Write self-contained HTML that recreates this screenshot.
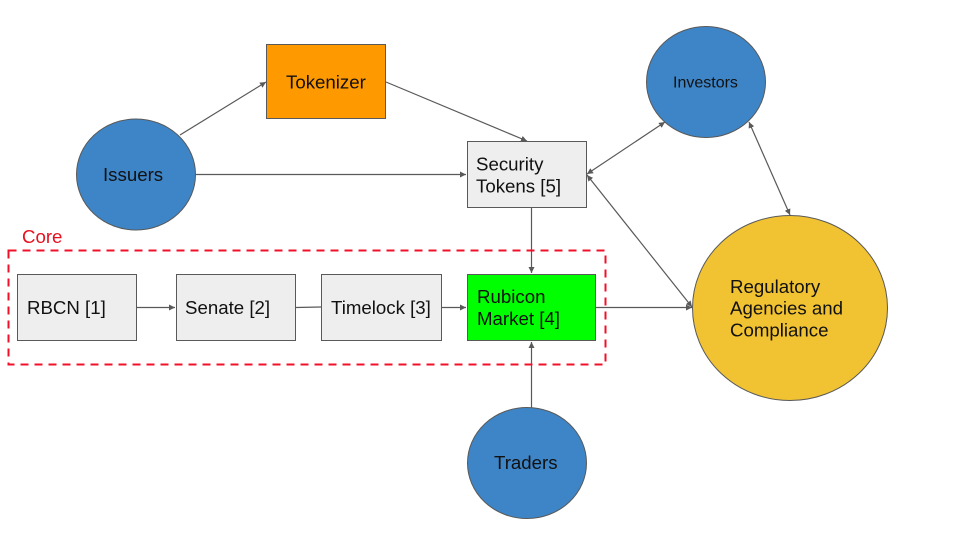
<!DOCTYPE html>
<html>
<head>
<meta charset="utf-8">
<style>
html,body{margin:0;padding:0;background:#fff;}
svg{display:block;}
text{font-family:"Liberation Sans",Arial,sans-serif;font-size:18.67px;fill:#111;}
.n{stroke:#595959;stroke-width:1;}
.l{stroke:#595959;stroke-width:1.2;fill:none;}
.a{fill:#595959;stroke:none;}
</style>
</head>
<body>
<svg width="960" height="540" viewBox="0 0 960 540" xmlns="http://www.w3.org/2000/svg">
<defs>
<marker id="h" markerUnits="userSpaceOnUse" markerWidth="8" markerHeight="8" refX="6" refY="3" orient="auto-start-reverse">
<path class="a" d="M0,0 L6,3 L0,6 Z"/>
</marker>
</defs>
<rect width="960" height="540" fill="#fff"/>

<!-- Connectors -->
<line class="l" x1="180" y1="135" x2="266" y2="82" marker-end="url(#h)"/>
<line class="l" x1="386" y1="82" x2="527" y2="141" marker-end="url(#h)"/>
<line class="l" x1="196" y1="174.5" x2="466" y2="174.5" marker-end="url(#h)"/>
<line class="l" x1="531.5" y1="208" x2="531.5" y2="273" marker-end="url(#h)"/>
<line class="l" x1="137" y1="307.5" x2="175" y2="307.5" marker-end="url(#h)"/>
<line class="l" x1="296" y1="307.5" x2="321" y2="307"/>
<line class="l" x1="442" y1="307.5" x2="466" y2="307.5" marker-end="url(#h)"/>
<line class="l" x1="596" y1="307.5" x2="692" y2="307.5" marker-end="url(#h)"/>
<line class="l" x1="531.5" y1="408" x2="531.5" y2="342" marker-end="url(#h)"/>
<line class="l" x1="587" y1="174" x2="665" y2="122" marker-start="url(#h)" marker-end="url(#h)"/>
<line class="l" x1="587" y1="175" x2="692" y2="307" marker-start="url(#h)" marker-end="url(#h)"/>
<line class="l" x1="749" y1="122" x2="790" y2="215" marker-start="url(#h)" marker-end="url(#h)"/>

<!-- Core dashed region -->
<rect x="8.500" y="250.500" width="597" height="114" fill="none" stroke="#f0102a" stroke-width="2" stroke-dasharray="8,6"/>
<text x="22" y="243" style="fill:#e8101f">Core</text>

<!-- Boxes -->
<rect class="n" x="17.500" y="274.500" width="119" height="66" fill="#eeeeee"/>
<rect class="n" x="176.500" y="274.500" width="119" height="66" fill="#eeeeee"/>
<rect class="n" x="321.500" y="274.500" width="120" height="66" fill="#eeeeee"/>
<rect class="n" x="467.500" y="274.500" width="128" height="66" fill="#00ff00"/>
<rect class="n" x="467.500" y="141.500" width="119" height="66" fill="#eeeeee"/>
<rect class="n" x="266.500" y="44.500" width="119" height="74" fill="#ff9900"/>

<!-- Circles -->
<ellipse class="n" cx="136" cy="174.500" rx="59.500" ry="55.500" fill="#3d85c6"/>
<ellipse class="n" cx="706" cy="82" rx="59.500" ry="55.500" fill="#3d85c6"/>
<ellipse class="n" cx="527" cy="463" rx="59.500" ry="55.500" fill="#3d85c6"/>
<ellipse class="n" cx="790" cy="308" rx="97.500" ry="92.500" fill="#f1c232"/>

<!-- Labels -->
<text x="286" y="88.500">Tokenizer</text>
<text x="103" y="181">Issuers</text>
<text x="673" y="87.500" style="font-size:16px">Investors</text>
<text x="476" y="170.500">Security</text>
<text x="476" y="192.500">Tokens [5]</text>
<text x="27" y="314">RBCN [1]</text>
<text x="185" y="314">Senate [2]</text>
<text x="331" y="314">Timelock [3]</text>
<text x="477" y="303">Rubicon</text>
<text x="477" y="325">Market [4]</text>
<text x="494" y="469">Traders</text>
<text x="730" y="293">Regulatory</text>
<text x="730" y="314.500">Agencies and</text>
<text x="730" y="336.500">Compliance</text>
</svg>
</body>
</html>
